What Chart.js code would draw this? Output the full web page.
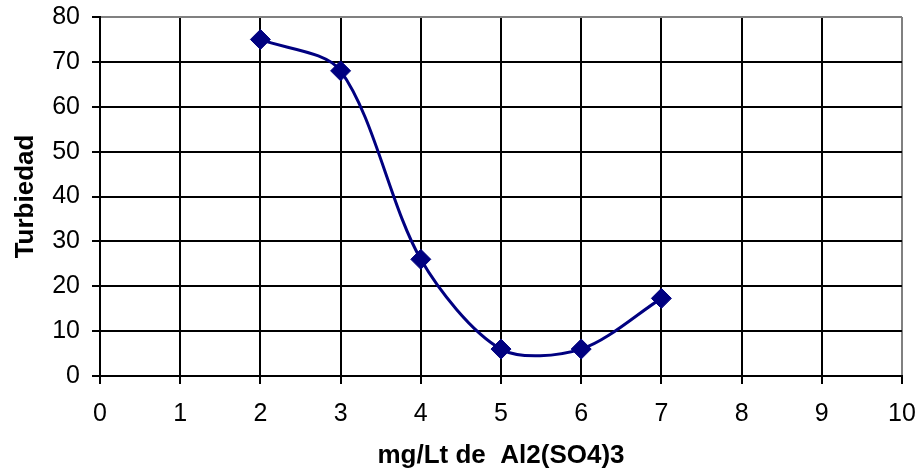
<!DOCTYPE html>
<html>
<head>
<meta charset="utf-8">
<script src="https://cdn.jsdelivr.net/npm/chart.js@4"></script>
<style>
    body { margin: 0; background: #fff; }
    #contenedor { width: 922px; height: 475px; }
</style>
</head>
<body>
<div id="contenedor"><canvas id="turbiedadChart"></canvas></div>
<script>
// Datos de la prueba de jarras
const dosis = [2, 3, 4, 5, 6, 7];
const turbiedad = [75, 68, 26, 6, 6, 17.3];
const ticksX = [0, 1, 2, 3, 4, 5, 6, 7, 8, 9, 10];
const ticksY = [0, 10, 20, 30, 40, 50, 60, 70, 80];

const fuente = "'Liberation Sans', Arial, sans-serif";

document.addEventListener('DOMContentLoaded', function () {
    const ctx = document.getElementById('turbiedadChart').getContext('2d');

    new Chart(ctx, {
        type: 'line',
        data: {
            datasets: [{
                label: 'Turbiedad',
                data: dosis.map((d, i) => ({ x: d, y: turbiedad[i] })),
                borderColor: '#000080',
                borderWidth: 3,
                backgroundColor: '#000080',
                pointStyle: 'rectRot',
                pointRadius: 10,
                pointBorderWidth: 1,
                pointBackgroundColor: '#000080',
                pointBorderColor: '#000080',
                tension: 0.3,
                fill: false
            }]
        },
        options: {
            responsive: true,
            maintainAspectRatio: false,
            animation: false,
            layout: {
                padding: { top: 17, right: 20, left: 0, bottom: 0 }
            },
            plugins: {
                legend: { display: false },
                tooltip: { enabled: false }
            },
            scales: {
                x: {
                    type: 'linear',
                    min: 0,
                    max: 10,
                    afterBuildTicks: scale => { scale.ticks = ticksX.map(v => ({ value: v })); },
                    afterFit: scale => {
                        scale.height = 99;
                        scale.paddingLeft = 0;
                        scale.paddingRight = 0;
                    },
                    grid: {
                        color: c => (c.tick && c.tick.value === 10) ? '#808080' : '#000',
                        lineWidth: 2,
                        tickLength: 8,
                        tickColor: '#000'
                    },
                    border: { color: '#000', width: 2 },
                    ticks: {
                        color: '#000',
                        padding: 15,
                        font: { family: fuente, size: 25 }
                    },
                    title: {
                        display: true,
                        text: 'mg/Lt de  Al2(SO4)3',
                        color: '#000',
                        padding: { top: 0, bottom: 4 },
                        font: { family: fuente, size: 26, weight: 'bold' }
                    }
                },
                y: {
                    min: 0,
                    max: 80,
                    afterBuildTicks: scale => { scale.ticks = ticksY.map(v => ({ value: v })); },
                    afterFit: scale => {
                        scale.width = 100;
                        scale.paddingTop = 0;
                        scale.paddingBottom = 0;
                    },
                    grid: {
                        color: c => (c.tick && c.tick.value === 80) ? '#808080' : '#000',
                        lineWidth: 2,
                        tickLength: 8,
                        tickColor: '#000'
                    },
                    border: { color: '#000', width: 2 },
                    ticks: {
                        color: '#000',
                        padding: 12,
                        font: { family: fuente, size: 25 }
                    },
                    title: {
                        display: true,
                        text: 'Turbiedad',
                        color: '#000',
                        padding: { top: 10, bottom: 0 },
                        font: { family: fuente, size: 26, weight: 'bold' }
                    }
                }
            }
        }
    });
});
</script>
</body>
</html>
